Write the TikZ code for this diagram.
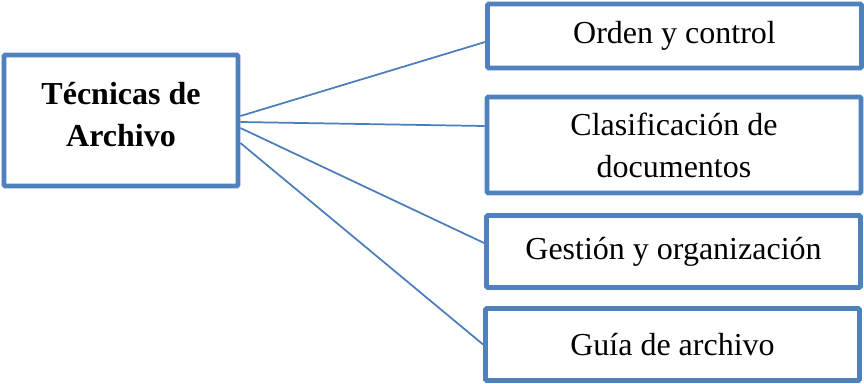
\documentclass[tikz,border=0pt]{standalone}
\usepackage{fontspec}
\setmainfont{Liberation Serif}
\usepackage{xcolor}
\usepackage{tikz}
\usetikzlibrary{calc}
\definecolor{archblue}{HTML}{4F81BD}
\definecolor{archline}{HTML}{4A7EBB}

\begin{document}
\begin{tikzpicture}[
  x=0.75pt,y=-0.75pt,
  font=\fontsize{24}{31.5}\selectfont,
  mainbox/.style={draw=archblue,fill=white,line width=3.6pt,rounded corners=1pt,minimum width=234*0.75pt,minimum height=131*0.75pt,align=center,inner sep=0pt,font=\fontsize{24}{32}\selectfont\bfseries},
  topic/.style={draw=archblue,fill=white,line width=3.6pt,rounded corners=1pt,minimum width=374*0.75pt,align=center,inner sep=0pt},
  link/.style={draw=archline,line width=1.3pt}
]
\useasboundingbox (0,0) rectangle (864,383);

\node[mainbox] (t) at (121,120.5) {Técnicas de\\Archivo\\[-23pt]\mbox{}};

\node[topic,minimum height=64*0.75pt] (oc) at (674.5,36) {Orden y control};
\node[topic,minimum height=96*0.75pt] (cd) at (674,145) {Clasificación de\\documentos};
\node[topic,minimum height=72*0.75pt] (go) at (673.5,251.5) {Gestión y organización};
\node[topic,minimum height=72*0.75pt] (ga) at (672.5,344.5) {Guía de archivo};

\draw[link] ($(t.east)+(0,-4.5)$) -- ($(oc.west)+(0,6)$);
\draw[link] ($(t.east)+(0,1.5)$) -- ($(cd.west)+(0,-19)$);
\draw[link] ($(t.east)+(0,7.5)$) -- ($(go.west)+(0,-8.5)$);
\draw[link] ($(t.east)+(0,22.5)$) -- (ga.west);
\end{tikzpicture}
\end{document}
